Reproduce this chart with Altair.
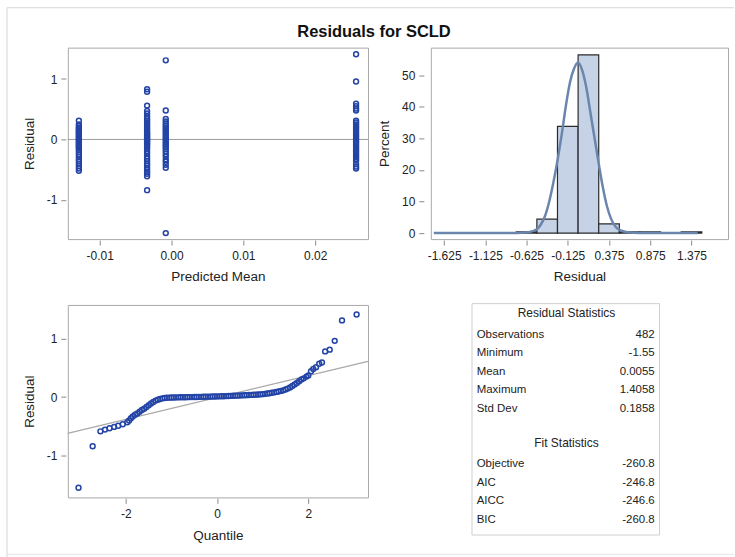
import altair as alt
import pandas as pd

FONT = "Liberation Sans"
TXT = "#222222"
PT = "#2344a6"
MINUS_FIX = "replace(datum.label, '\u2212', '-')"

chart_title = "Residuals for SCLD"

# ---------------- Residual vs predicted mean ----------------
pm_levels = [-0.0129, -0.0034, -0.0008, 0.0257]
resid_g1 = [0.31, 0.25, 0.22, 0.19, 0.17, 0.15, 0.13, 0.11, 0.09, 0.07, 0.05, 0.03,
            0.01, -0.01, -0.03, -0.05, -0.07, -0.09, -0.11, -0.13, -0.15, -0.18,
            -0.21, -0.25, -0.29, -0.33, -0.36, -0.40, -0.44, -0.48, -0.52]
resid_g2 = [0.83, 0.79, 0.56, 0.47, 0.43, 0.38, 0.34, 0.31, 0.28, 0.25, 0.22, 0.19,
            0.16, 0.13, 0.11, 0.09, 0.07, 0.05, 0.03, 0.01, -0.01, -0.03, -0.05,
            -0.07, -0.09, -0.12, -0.15, -0.19, -0.23, -0.28, -0.32, -0.36, -0.40,
            -0.43, -0.47, -0.50, -0.54, -0.57, -0.61, -0.84]
resid_g3 = [1.31, 0.48, 0.34, 0.30, 0.26, 0.23, 0.20, 0.17, 0.14, 0.11, 0.08, 0.05,
            0.02, -0.01, -0.04, -0.07, -0.10, -0.13, -0.16, -0.20, -0.24, -0.28,
            -0.33, -0.37, -0.42, -0.47, -1.55]
resid_g4 = [1.41, 0.96, 0.59, 0.55, 0.51, 0.48, 0.31, 0.28, 0.25, 0.22, 0.19, 0.16,
            0.13, 0.10, 0.07, 0.04, 0.01, -0.02, -0.05, -0.08, -0.11, -0.14, -0.17,
            -0.20, -0.23, -0.26, -0.29, -0.32, -0.35, -0.41, -0.45, -0.48]

# ---------------- Histogram ----------------
hist_lo = [-0.75, -0.5, -0.25, 0.0, 0.25, 0.5, 0.75, 1.25]
hist_hi = [-0.5, -0.25, 0.0, 0.25, 0.5, 0.75, 1.0, 1.5]
hist_pct = [0.4, 4.4, 33.8, 56.4, 2.9, 0.4, 0.4, 0.4]

dens_x = [-1.75, -1.0, -0.8, -0.6, -0.5, -0.45, -0.4, -0.35, -0.3, -0.25, -0.2, -0.15,
          -0.1, -0.05, 0.0, 0.05, 0.1, 0.15, 0.2, 0.25, 0.3, 0.35, 0.4, 0.45, 0.5,
          0.6, 0.75, 1.0, 1.45]
dens_pct = [0.0, 0.0, 0.05, 0.3, 1.2, 2.8, 5.5, 10.0, 16.0, 23.0, 31.0, 40.0,
            47.5, 52.0, 54.0, 51.5, 46.0, 38.0, 30.0, 22.0, 14.5, 8.5, 4.5, 2.2, 1.0,
            0.3, 0.05, 0.0, 0.0]

# ---------------- Q-Q plot ----------------
qq_quant = [-3.04, -2.73, -2.56, -2.46, -2.36, -2.26, -2.17, -2.07, -1.97,
            -1.93, -1.89, -1.85, -1.80, -1.75, -1.70, -1.65, -1.60, -1.55, -1.50,
            -1.45, -1.40, -1.35, -1.30, -1.25, -1.20, -1.15, -1.10, -1.05, -1.00,
            -0.95, -0.90, -0.85, -0.80, -0.75, -0.70, -0.65, -0.60, -0.55, -0.50,
            -0.45, -0.40, -0.35, -0.30, -0.25, -0.20, -0.15, -0.10, -0.05, 0.00,
            0.05, 0.10, 0.15, 0.20, 0.25, 0.30, 0.35, 0.40, 0.45, 0.50,
            0.55, 0.60, 0.65, 0.70, 0.75, 0.80, 0.85, 0.90, 0.95, 1.00,
            1.05, 1.10, 1.15, 1.20, 1.25, 1.30, 1.35, 1.40, 1.45, 1.50,
            1.55, 1.60, 1.65, 1.70, 1.75, 1.80, 1.85, 1.90,
            1.96, 2.00, 2.06, 2.11, 2.17, 2.24, 2.30, 2.37, 2.47, 2.58, 2.74, 3.06]
qq_resid = [-1.55, -0.84, -0.585, -0.556, -0.533, -0.51, -0.49, -0.465, -0.43,
            -0.40, -0.36, -0.33, -0.30, -0.28, -0.25, -0.22, -0.20, -0.17, -0.14,
            -0.11, -0.085, -0.06, -0.045, -0.032, -0.022, -0.016, -0.012, -0.010, -0.008,
            -0.007, -0.006, -0.005, -0.004, -0.003, -0.002, -0.001, 0.000, 0.000, 0.001,
            0.002, 0.003, 0.004, 0.005, 0.006, 0.007, 0.008, 0.009, 0.010, 0.011,
            0.012, 0.014, 0.015, 0.017, 0.018, 0.020, 0.022, 0.024, 0.025, 0.027,
            0.029, 0.031, 0.033, 0.035, 0.037, 0.039, 0.041, 0.044, 0.047, 0.050,
            0.055, 0.060, 0.066, 0.073, 0.080, 0.088, 0.096, 0.105, 0.115, 0.130,
            0.145, 0.165, 0.190, 0.215, 0.240, 0.270, 0.300, 0.320,
            0.35, 0.37, 0.44, 0.48, 0.51, 0.57, 0.59, 0.78, 0.81, 0.96, 1.31, 1.41]
ref_quant = [-3.28, 3.31]
ref_resid = [-0.62, 0.61]

# ---------------- Statistics tables ----------------
table_headers = ["Residual Statistics", "Fit Statistics"]
res_stat_names = ["Observations", "Minimum", "Mean", "Maximum", "Std Dev"]
res_stat_vals = ["482", "-1.55", "0.0055", "1.4058", "0.1858"]
fit_stat_names = ["Objective", "AIC", "AICC", "BIC"]
fit_stat_vals = ["-260.8", "-246.8", "-246.6", "-260.8"]

# ---------------- frames ----------------
scatter_df = pd.DataFrame({
    "pm": [pm_levels[0]] * len(resid_g1) + [pm_levels[1]] * len(resid_g2)
          + [pm_levels[2]] * len(resid_g3) + [pm_levels[3]] * len(resid_g4),
    "resid": resid_g1 + resid_g2 + resid_g3 + resid_g4,
})
hist_df = pd.DataFrame({"lo": hist_lo, "hi": hist_hi, "pct": hist_pct})
dens_df = pd.DataFrame({"x": dens_x, "pct": dens_pct})
qq_df = pd.DataFrame({"q": qq_quant, "r": qq_resid})
ref_df = pd.DataFrame({"q": ref_quant, "r": ref_resid})

rows = []
rows.append({"slot": 0, "name": table_headers[0], "val": "", "kind": "head"})
for i, (n, v) in enumerate(zip(res_stat_names, res_stat_vals)):
    rows.append({"slot": i + 1, "name": n, "val": v, "kind": "row"})
rows.append({"slot": 7, "name": table_headers[1], "val": "", "kind": "head"})
for i, (n, v) in enumerate(zip(fit_stat_names, fit_stat_vals)):
    rows.append({"slot": i + 8, "name": n, "val": v, "kind": "row"})
table_df = pd.DataFrame(rows)

one = pd.DataFrame({"a": [0]})
title_df = pd.DataFrame({"t": [chart_title]})

W1, H1 = 301, 192
W2 = 298
H2 = 193


def xaxis(title, values, fmt):
    return alt.Axis(title=title, values=values, format=fmt, offset=1, labelPadding=5,
                    titlePadding=9, labelExpr=MINUS_FIX, labelOverlap=False)


def yaxis(title, values, fmt, offset=2):
    return alt.Axis(title=title, values=values, format=fmt, offset=offset, labelPadding=4,
                    titlePadding=10, labelExpr=MINUS_FIX, labelOverlap=False)


# ---------------- top-left: residual vs predicted mean ----------------
tl_yscale = alt.Scale(domain=[-1.65, 1.52], nice=False, zero=False)
tl_x = alt.X("pm:Q", scale=alt.Scale(domain=[-0.01444, 0.02736], nice=False, zero=False),
             axis=xaxis("Predicted Mean", [-0.01, 0.0, 0.01, 0.02], ".2f"))
tl_y = alt.Y("resid:Q", scale=tl_yscale, axis=yaxis("Residual", [-1, 0, 1], "d"))

bounds_rect = alt.Chart(one).mark_rect(opacity=0).encode(
    x=alt.value(-67), x2=alt.value(668), y=alt.value(-46), y2=alt.value(511))
border_left = alt.Chart(one).mark_rule(color="#d6d6d6").encode(
    x=alt.value(-61), y=alt.value(-40), y2=alt.value(511))
border_top = alt.Chart(one).mark_rule(color="#d6d6d6").encode(
    y=alt.value(-40), x=alt.value(-61), x2=alt.value(668))
border_bottom = alt.Chart(one).mark_rule(color="#e6e6e6").encode(
    y=alt.value(508), x=alt.value(-61), x2=alt.value(668))
title_mark = alt.Chart(title_df).mark_text(
    font=FONT, fontSize=16.5, fontWeight="bold", color="#111111", align="center",
    baseline="alphabetic").encode(text="t:N", x=alt.value(307), y=alt.value(-11))

zero_rule = alt.Chart(one).mark_rule(color="#9a9a9a", strokeWidth=1).encode(
    y=alt.datum(0, scale=tl_yscale))
tl_points = alt.Chart(scatter_df).mark_point(
    shape="circle", filled=False, size=24, strokeWidth=1.5, color=PT, opacity=1
).encode(x=tl_x, y=tl_y)

top_left = alt.layer(bounds_rect, border_left, border_top, border_bottom, title_mark,
                     zero_rule, tl_points).properties(width=W1, height=H1)

# ---------------- top-right: histogram ----------------
hx_scale = alt.Scale(domain=[-1.786, 1.818], nice=False, zero=False)
hy_scale = alt.Scale(domain=[-1.9, 58.7], nice=False, zero=False)
hx_axis = xaxis("Residual", [-1.625, -1.125, -0.625, -0.125, 0.375, 0.875, 1.375], ".3f")
hy_axis = yaxis("Percent", [0, 10, 20, 30, 40, 50], "d", offset=7)
bars = alt.Chart(hist_df).mark_rect(fill="#c6d3e6", stroke="#2a2a2a", strokeWidth=1.2).encode(
    x=alt.X("lo:Q", scale=hx_scale, axis=hx_axis),
    x2="hi:Q",
    y=alt.Y("pct:Q", scale=hy_scale, axis=hy_axis),
    y2=alt.datum(0),
)
curve = alt.Chart(dens_df).mark_line(color="#6b86ad", strokeWidth=2.5, interpolate="monotone").encode(
    x=alt.X("x:Q", scale=hx_scale, axis=hx_axis),
    y=alt.Y("pct:Q", scale=hy_scale, axis=hy_axis))
top_right = alt.layer(bars, curve).properties(width=W2, height=H1)

# ---------------- bottom-left: Q-Q plot ----------------
qx_scale = alt.Scale(domain=[-3.275, 3.31], nice=False, zero=False)
qy_scale = alt.Scale(domain=[-1.714, 1.574], nice=False, zero=False)
qx_axis = xaxis("Quantile", [-2, 0, 2], "d")
qy_axis = yaxis("Residual", [-1, 0, 1], "d")
ref_line = alt.Chart(ref_df).mark_line(color="#a9a9a9", strokeWidth=1.3).encode(
    x=alt.X("q:Q", scale=qx_scale, axis=qx_axis),
    y=alt.Y("r:Q", scale=qy_scale, axis=qy_axis))
qq_points = alt.Chart(qq_df).mark_point(
    shape="circle", filled=False, size=24, strokeWidth=1.5, color=PT, opacity=1
).encode(x=alt.X("q:Q", scale=qx_scale, axis=qx_axis),
         y=alt.Y("r:Q", scale=qy_scale, axis=qy_axis))
bottom_left = alt.layer(ref_line, qq_points).properties(width=W1, height=H2)

# ---------------- bottom-right: statistics table ----------------
slot_scale = alt.Scale(domain=[0, 11], range=[11.1, 215.7], nice=False, zero=False)
box = alt.Chart(one).mark_rect(fillOpacity=0, stroke="#cfcfcf", strokeWidth=1).encode(
    x=alt.value(41.3), x2=alt.value(229.3), y=alt.value(-1.3), y2=alt.value(230.7))
heads = alt.Chart(table_df).transform_filter(alt.datum.kind == "head").mark_text(
    font=FONT, fontSize=12, color=TXT, align="center", baseline="middle", dy=-3
).encode(text="name:N", x=alt.value(136), y=alt.Y("slot:Q", scale=slot_scale, axis=None))
names = alt.Chart(table_df).transform_filter(alt.datum.kind == "row").mark_text(
    font=FONT, fontSize=11.5, color=TXT, align="left", baseline="middle"
).encode(text="name:N", x=alt.value(46), y=alt.Y("slot:Q", scale=slot_scale, axis=None))
vals = alt.Chart(table_df).transform_filter(alt.datum.kind == "row").mark_text(
    font=FONT, fontSize=11.5, color=TXT, align="right", baseline="middle"
).encode(text="val:N", x=alt.value(224.5), y=alt.Y("slot:Q", scale=slot_scale, axis=None))
table = alt.layer(box, heads, names, vals).properties(
    width=W2, height=H2, view=alt.ViewBackground(stroke="transparent"))

chart = alt.concat(
    top_left, top_right, bottom_left, table,
    columns=2, spacing={"row": 66, "column": 63}, bounds="flush",
).properties(padding=0, background="white").configure_view(
    stroke="#a8a8a8", strokeWidth=1
).configure_axis(
    labelFont=FONT, titleFont=FONT, labelFontSize=12, titleFontSize=13.5,
    labelColor=TXT, titleColor=TXT, titleFontWeight="normal", domain=False,
    grid=False, tickColor="#8a8a8a", tickSize=5, ticks=True
)

chart.save("out.html", embed_options={"renderer": "svg", "actions": False})
